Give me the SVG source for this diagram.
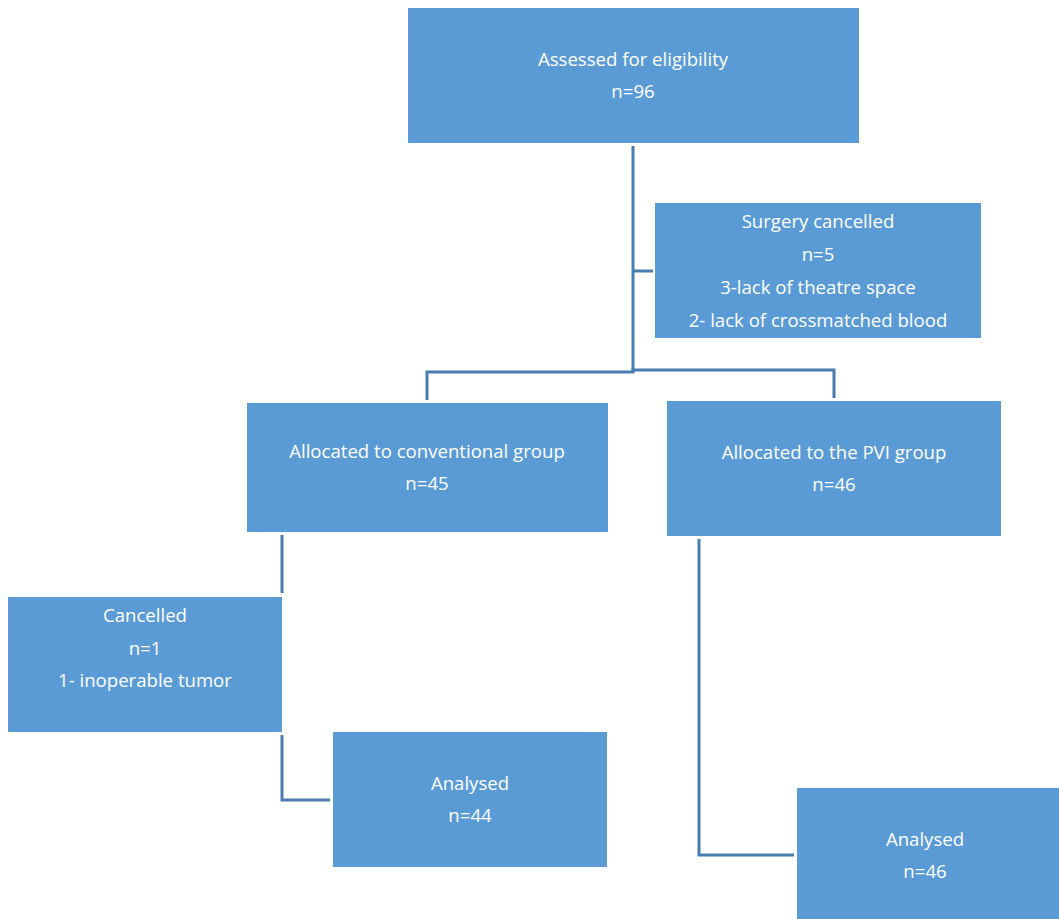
<svg xmlns="http://www.w3.org/2000/svg" width="1059" height="919" viewBox="0 0 1059 919">
<style>
.box{fill:#5B9BD5;}
.t{fill:#FFFFFF;font-family:"Open Sans","Liberation Sans",sans-serif;font-size:18.6px;text-anchor:middle;}
.c{fill:none;stroke:#4A7DAF;stroke-width:3;}
</style>
<rect width="1059" height="919" fill="#FFFFFF"/>
<g id="connectors">
<polyline class="c" points="633,146 633,372"/>
<polyline class="c" points="633,271 653,271"/>
<polyline class="c" points="427,400 427,372 633,372 633,370 834,370 834,398"/>
<polyline class="c" points="282,535 282,593"/>
<polyline class="c" points="282,735 282,800 330,800"/>
<polyline class="c" points="699,539 699,855 794,855"/>
</g>
<g id="assessed">
<rect class="box" x="408" y="8" width="451" height="135"/>
<text class="t" x="633" y="66">Assessed for eligibility</text>
<text class="t" x="633" y="98">n=96</text>
</g>
<g id="surgery-cancelled">
<rect class="box" x="655" y="203" width="326" height="135"/>
<text class="t" x="818" y="228">Surgery cancelled</text>
<text class="t" x="818" y="261">n=5</text>
<text class="t" x="818" y="294">3-lack of theatre space</text>
<text class="t" x="818" y="327">2- lack of crossmatched blood</text>
</g>
<g id="conventional">
<rect class="box" x="247" y="403" width="361" height="129"/>
<text class="t" x="427" y="458">Allocated to conventional group</text>
<text class="t" x="427" y="490">n=45</text>
</g>
<g id="pvi">
<rect class="box" x="667" y="401" width="334" height="135"/>
<text class="t" x="834" y="459">Allocated to the PVI group</text>
<text class="t" x="834" y="491">n=46</text>
</g>
<g id="cancelled">
<rect class="box" x="8" y="597" width="274" height="135"/>
<text class="t" x="145" y="622">Cancelled</text>
<text class="t" x="145" y="655">n=1</text>
<text class="t" x="145" y="687">1- inoperable tumor</text>
</g>
<g id="analysed-44">
<rect class="box" x="333" y="732" width="274" height="135"/>
<text class="t" x="470" y="790">Analysed</text>
<text class="t" x="470" y="822">n=44</text>
</g>
<g id="analysed-46">
<rect class="box" x="797" y="788" width="262" height="131"/>
<text class="t" x="925" y="846">Analysed</text>
<text class="t" x="925" y="878">n=46</text>
</g>
</svg>
